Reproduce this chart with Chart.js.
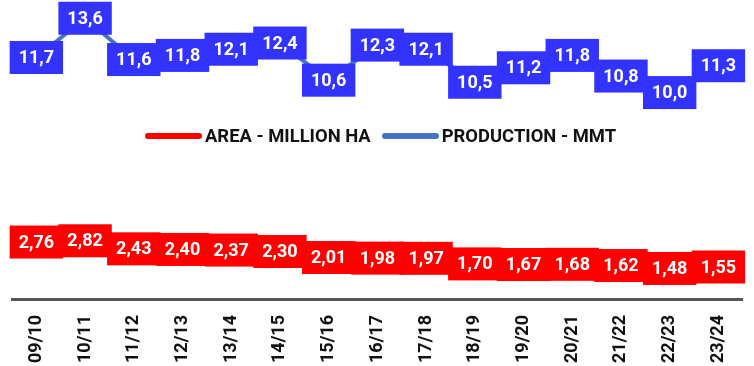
<!DOCTYPE html>
<html>
<head>
<meta charset="utf-8">
<script src="https://cdn.jsdelivr.net/npm/chart.js@4/dist/chart.umd.min.js"></script>
<style>
  html, body { margin: 0; padding: 0; background: #fff; overflow: hidden; }
  #wrap { position: relative; width: 754px; height: 366px; overflow: hidden; }
  #c { position: absolute; left: 0; top: 0; }
  .legend {
    position: absolute; top: 127px; left: 145px; height: 18px;
    display: flex; align-items: center;
    font: bold 18.4px Roboto, sans-serif; line-height: 18px; color: #111;
  }
  .legend .sw { display: inline-block; width: 57px; height: 6px; border-radius: 3px; margin-right: 3px; }
  .legend .item { display: flex; align-items: center; }
  .legend .item + .item { margin-left: 11px; }
</style>
</head>
<body>
<div id="wrap">
  <canvas id="c" width="756" height="366"></canvas>
  <div class="legend">
    <span class="item"><span class="sw" style="background:#ff0000"></span>AREA - MILLION HA</span>
    <span class="item"><span class="sw" style="background:#4472c4"></span>PRODUCTION - MMT</span>
  </div>
</div>
<script>
// crop years
const seasons = ['09/10', '10/11', '11/12', '12/13', '13/14', '14/15', '15/16', '16/17',
  '17/18', '18/19', '19/20', '20/21', '21/22', '22/23', '23/24']

// planted area, million ha
const area = [2.76, 2.82, 2.43, 2.40, 2.37, 2.30, 2.01, 1.98, 1.97, 1.70, 1.67, 1.68, 1.62, 1.48, 1.55]

// production, million metric tons
const production = [11.7, 13.6, 11.6, 11.8, 12.1, 12.4, 10.6, 12.3, 12.1, 10.5, 11.2, 11.8, 10.8, 10.0, 11.3]

// boxed value labels drawn over each point
const boxLabels = {
  id: 'boxLabels',
  afterDatasetsDraw(chart) {
    const ctx = chart.ctx
    ctx.save()
    ctx.font = 'bold 18px Roboto, sans-serif'
    ctx.textAlign = 'center'
    ctx.textBaseline = 'middle'
    chart.data.datasets.forEach((ds, i) => {
      const meta = chart.getDatasetMeta(i)
      meta.data.forEach((pt, j) => {
        const txt = ds.data[j].toFixed(ds.decimals).replace('.', ',')
        const w = ctx.measureText(txt).width + 18
        const h = 33
        ctx.fillStyle = ds.boxColor
        ctx.fillRect(pt.x - w / 2, pt.y - h / 2, w, h)
        ctx.fillStyle = '#fff'
        ctx.fillText(txt, pt.x, pt.y + 1)
      })
    })
    ctx.restore()
  }
}

new Chart(document.getElementById('c'), {
  type: 'line',
  data: {
    labels: seasons,
    datasets: [
      {
        label: 'AREA - MILLION HA',
        data: area,
        borderColor: '#ff0000',
        borderWidth: 4,
        pointRadius: 0,
        boxColor: '#ff0000',
        decimals: 2,
      },
      {
        label: 'PRODUCTION - MMT',
        data: production,
        borderColor: '#4472c4',
        borderWidth: 4,
        pointRadius: 0,
        boxColor: '#3333ff',
        decimals: 1,
      },
    ],
  },
  options: {
    responsive: false,
    animation: false,
    layout: { padding: { left: 12, right: 0, top: 10, bottom: 0 } },
    plugins: {
      legend: { display: false },
      tooltip: { enabled: false },
    },
    scales: {
      x: {
        offset: true,
        grid: { display: false, drawTicks: false },
        border: { display: true, color: '#555', width: 3 },
        ticks: {
          color: '#111',
          font: { family: 'Roboto', weight: 'bold', size: 18 },
          minRotation: 90,
          maxRotation: 90,
          padding: 16,
        },
        afterFit(scale) { scale.height = 67 },
      },
      y: {
        display: false,
        min: 0,
        max: 14,
      },
    },
  },
  plugins: [boxLabels],
})
</script>
</body>
</html>
